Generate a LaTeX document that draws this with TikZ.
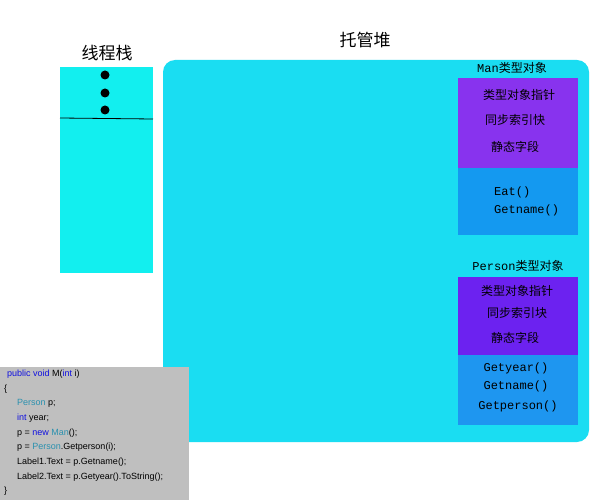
\documentclass[tikz,border=0pt]{standalone}
\usepackage{fontspec}
\setmainfont{Liberation Sans}
\newfontfamily\cjk{Noto Sans CJK SC}
\newfontfamily\mono{Liberation Mono}
\begin{document}
\begin{tikzpicture}[x=1pt,y=-1pt,
  cn/.style={font=\cjk\fontsize{12}{12}\selectfont,inner sep=0},
  mn/.style={font=\mono\fontsize{12}{12}\selectfont,inner sep=0},
  cd/.style={font=\fontsize{9}{9}\selectfont,inner sep=0,anchor=west}]
\definecolor{stk}{HTML}{12EFEF}
\definecolor{heap}{HTML}{1ADDF2}
\definecolor{pur1}{HTML}{8833EE}
\definecolor{pur2}{HTML}{6C22F0}
\definecolor{blu1}{HTML}{1499F0}
\definecolor{blu2}{HTML}{1E96F0}
\definecolor{kw}{HTML}{1010E0}
\definecolor{ty}{HTML}{2B91AF}
\useasboundingbox (0,0) rectangle (600,500);
\fill[white] (0,0) rectangle (600,500);
% stack
\fill[stk] (60,67) rectangle (153,273);
\draw[black,line width=0.8] (60,118) -- (153,119);
\foreach \y in {75,93,110} \fill (105,\y) circle (4.5);
\node[font=\cjk\fontsize{17}{17}\selectfont] (st) at (107,53) {线程栈};
% heap
\fill[heap,rounded corners=12] (163,60) rectangle (589,442);
\node[font=\cjk\fontsize{17}{17}\selectfont] (hp) at (365,40) {托管堆};
% Man
\node[font=\mono\fontsize{12}{12}\selectfont\cjk, inner sep=0] (manl) at (512,68) {{\mono Man}类型对象};
\fill[pur1] (458,78) rectangle (578,168);
\fill[blu1] (458,168) rectangle (578,235);
\node[cn] (m1) at (519,95) {类型对象指针};
\node[cn] (m2) at (515,120) {同步索引快};
\node[cn] (m3) at (515,147) {静态字段};
\node[mn,anchor=west] (m4) at (494,192) {Eat()};
\node[mn,anchor=west] (m5) at (494,210) {Getname()};
% Person
\node[cn] (pl) at (518,266) {{\mono Person}类型对象};
\fill[pur2] (458,277) rectangle (578,355);
\fill[blu2] (458,355) rectangle (578,425);
\node[cn] (p1) at (517,291) {类型对象指针};
\node[cn] (p2) at (517,313) {同步索引块};
\node[cn] (p3) at (515,338) {静态字段};
\node[mn] (p4) at (516,368) {Getyear()};
\node[mn] (p5) at (516,386) {Getname()};
\node[mn] (p6) at (518,406) {Getperson()};
% code
\fill[black!25] (0,367) rectangle (189,500);
\node[cd] (c1) at (7,374) {\color{kw}public void \color{black}M(\color{kw}int \color{black}i)};
\node[cd] (c2) at (4,389) {\{};
\node[cd] (c3) at (17,403) {\color{ty}Person \color{black}p;};
\node[cd] (c4) at (17,418) {\color{kw}int \color{black}year;};
\node[cd] (c5) at (17,433) {p = \color{kw}new \color{ty}Man\color{black}();};
\node[cd] (c6) at (17,447) {p = \color{ty}Person\color{black}.Getperson(i);};
\node[cd] (c7) at (17,462) {Label1.Text = p.Getname();};
\node[cd] (c8) at (17,477) {Label2.Text = p.Getyear().ToString();};
\node[cd] (c9) at (4,491) {\}};
\end{tikzpicture}
\end{document}
